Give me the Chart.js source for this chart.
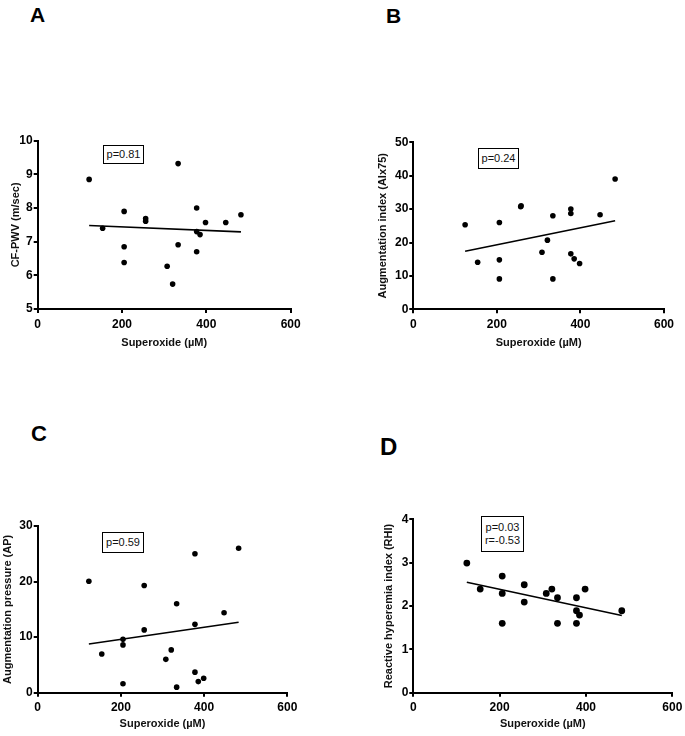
<!DOCTYPE html>
<html>
<head>
<meta charset="utf-8">
<script src="https://cdn.jsdelivr.net/npm/chart.js@4.4.1/dist/chart.umd.min.js"></script>
<style>
  body { margin: 0; background: #fff; width: 685px; height: 736px; position: relative; overflow: hidden; font-family: "Liberation Sans", Arial, sans-serif; }
  .panel { position: absolute; }
  .letter { position: absolute; font-weight: bold; line-height: 1; color: #000; }
  .pbox { position: absolute; border: 1.6px solid #000; box-sizing: border-box; font-size: 11px; line-height: 13px; color: #111; text-align: center; padding-top: 2px; }
</style>
</head>
<body>
<div class="letter" style="left:30px;top:4px;font-size:21px">A</div>
<div class="letter" style="left:386px;top:5px;font-size:21px">B</div>
<div class="letter" style="left:31px;top:423px;font-size:22px">C</div>
<div class="letter" style="left:380px;top:435px;font-size:24px">D</div>

<div class="pbox" style="left:103px;top:145px;width:41px;height:19px">p=0.81</div>
<div class="pbox" style="left:478px;top:148px;width:41px;height:21px;padding-top:3px">p=0.24</div>
<div class="pbox" style="left:102px;top:532px;width:42px;height:21px;padding-top:3px">p=0.59</div>
<div class="pbox" style="left:481px;top:516px;width:43px;height:36px;padding-top:4px">p=0.03<br>r=-0.53</div>

<canvas id="chart-a" class="panel"></canvas>
<canvas id="chart-b" class="panel"></canvas>
<canvas id="chart-c" class="panel"></canvas>
<canvas id="chart-d" class="panel"></canvas>

<script>
// dados
const xTicks = [0, 200, 400, 600];
const xLabel = "Superoxide (µM)";

// A - CF-PWV
const pwvX = [122, 154, 205, 205, 205, 256, 256, 307, 320, 333, 333, 377, 377, 377, 385, 398, 446, 482];
const pwvY = [8.85, 7.4, 7.9, 6.85, 6.38, 7.69, 7.61, 6.27, 5.74, 9.32, 6.91, 8.0, 7.3, 6.7, 7.21, 7.57, 7.57, 7.8];
const pwvFitX = [122, 482];
const pwvFitY = [7.48, 7.29];
const pwvTicks = [5, 6, 7, 8, 9, 10];

// B - AIx75
const aixX = [124, 154, 206, 206, 206, 257, 258, 308, 321, 334, 334, 377, 377, 377, 385, 398, 447, 483];
const aixY = [25.3, 14.1, 26.0, 14.8, 9.1, 30.7, 31.0, 17.1, 20.7, 28.0, 9.1, 30.0, 28.7, 16.6, 15.1, 13.7, 28.3, 39.0];
const aixFitX = [124, 483];
const aixFitY = [17.4, 26.5];
const aixTicks = [0, 10, 20, 30, 40, 50];

// C - AP
const apX = [123, 154, 205, 205, 205, 256, 256, 308, 321, 334, 334, 378, 378, 378, 386, 399, 448, 483];
const apY = [20.05, 6.97, 9.6, 8.6, 1.6, 19.3, 11.3, 6.0, 7.7, 16.0, 1.0, 25.0, 12.3, 3.7, 2.0, 2.6, 14.4, 26.0];
const apFitX = [123, 483];
const apFitY = [8.77, 12.67];
const apTicks = [0, 10, 20, 30];

// D - RHI
const rhiX = [124, 155, 206, 206, 206, 257, 257, 308, 321, 334, 334, 378, 378, 378, 385, 398, 483];
const rhiY = [2.99, 2.39, 2.69, 2.29, 1.60, 2.49, 2.09, 2.29, 2.39, 2.19, 1.60, 2.19, 1.89, 1.60, 1.79, 2.39, 1.89];
const rhiFitX = [124, 483];
const rhiFitY = [2.55, 1.78];
const rhiTicks = [0, 1, 2, 3, 4];

const FONT = "'Liberation Sans', Arial, sans-serif";

function pairs(xs, ys) {
  return xs.map((x, i) => ({ x: x, y: ys[i] }));
}

// box = area do gráfico em coordenadas da página
function makePanel(id, box, yTitle, xs, ys, fx, fy, yTicks, radius) {
  const cl = Math.max(0, Math.floor(Math.min(box.L - 40, box.yTitleX - 8)));
  const ct = Math.floor(box.T - 20);
  const cw = Math.ceil(box.R + 22 - cl);
  const ch = Math.ceil(box.xTitleY + 11 - ct);
  const canvas = document.getElementById(id);
  canvas.width = cw;
  canvas.height = ch;
  canvas.style.left = cl + "px";
  canvas.style.top = ct + "px";
  canvas.style.width = cw + "px";
  canvas.style.height = ch + "px";

  const yWidth = box.L - cl;
  const xHeight = ct + ch - box.B;
  const yStep = yTicks[1] - yTicks[0];

  return new Chart(canvas.getContext("2d"), {
    type: "scatter",
    data: {
      datasets: [
        {
          data: pairs(xs, ys),
          backgroundColor: "#000",
          borderWidth: 0,
          pointRadius: radius,
        },
        {
          type: "line",
          data: pairs(fx, fy),
          borderColor: "#000",
          borderWidth: 1.6,
          pointRadius: 0,
          fill: false,
        },
      ],
    },
    options: {
      responsive: false,
      animation: false,
      layout: {
        padding: { top: box.T - ct, right: cw - (box.R - cl), left: 0, bottom: 0 },
      },
      plugins: { legend: { display: false }, tooltip: { enabled: false } },
      scales: {
        x: {
          type: "linear",
          min: xTicks[0],
          max: xTicks[xTicks.length - 1],
          afterFit: (s) => { s.height = xHeight; },
          afterBuildTicks: (s) => { s.ticks = xTicks.map((v) => ({ value: v })); },
          border: { display: true, color: "#000", width: 2 },
          grid: { drawOnChartArea: false, drawTicks: true, tickLength: 4, lineWidth: 2, color: "#000" },
          ticks: { color: "#000", padding: 4, font: { family: FONT, size: 12, weight: "bold" } },
          title: {
            display: true,
            text: xLabel,
            color: "#111",
            font: { family: FONT, size: 11, weight: "bold" },
            padding: { top: 0, bottom: ct + ch - box.xTitleY - 6.6 },
          },
        },
        y: {
          type: "linear",
          min: yTicks[0],
          max: yTicks[yTicks.length - 1],
          afterFit: (s) => { s.width = yWidth; },
          afterBuildTicks: (s) => { s.ticks = yTicks.map((v) => ({ value: v })); },
          border: { display: true, color: "#000", width: 2 },
          grid: { drawOnChartArea: false, drawTicks: true, tickLength: 4, lineWidth: 2, color: "#000" },
          ticks: { color: "#000", padding: 1, stepSize: yStep, font: { family: FONT, size: 12, weight: "bold" } },
          title: {
            display: true,
            text: yTitle,
            color: "#111",
            font: { family: FONT, size: 11, weight: "bold" },
            padding: { top: box.yTitleX - cl - 6.6, bottom: 0 },
          },
        },
      },
    },
  });
}

document.addEventListener("DOMContentLoaded", function () {
  makePanel("chart-a", { L: 37.7, T: 140.7, R: 290.7, B: 309, yTitleX: 15.7, xTitleY: 342.7 },
    "CF-PWV (m/sec)", pwvX, pwvY, pwvFitX, pwvFitY, pwvTicks, 2.8);
  makePanel("chart-b", { L: 413.3, T: 142.3, R: 664, B: 309.3, yTitleX: 383.3, xTitleY: 342.7 },
    "Augmentation index (AIx75)", aixX, aixY, aixFitX, aixFitY, aixTicks, 2.8);
  makePanel("chart-c", { L: 37.7, T: 526, R: 287.3, B: 692.7, yTitleX: 8.3, xTitleY: 724.3 },
    "Augmentation pressure (AP)", apX, apY, apFitX, apFitY, apTicks, 2.8);
  makePanel("chart-d", { L: 413.3, T: 519.3, R: 672.3, B: 692.7, yTitleX: 389, xTitleY: 724.3 },
    "Reactive hyperemia index (RHI)", rhiX, rhiY, rhiFitX, rhiFitY, rhiTicks, 3.4);
});
</script>
</body>
</html>
